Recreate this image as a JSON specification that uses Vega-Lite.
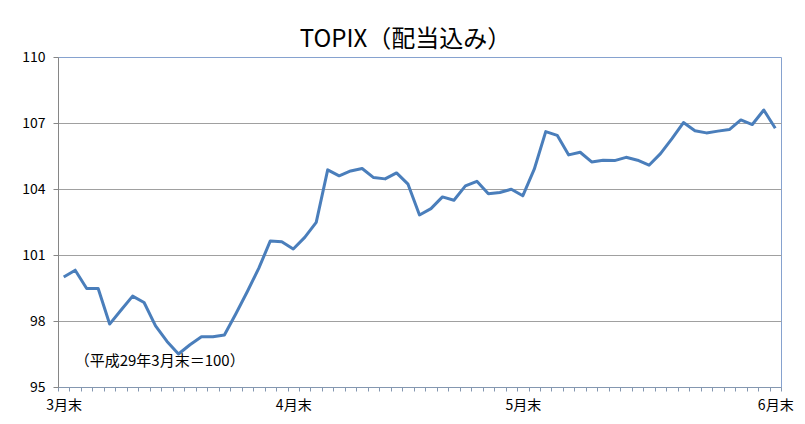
{
  "$schema": "https://vega.github.io/schema/vega-lite/v6.json",
  "autosize": "none",
  "width": 723,
  "height": 330,
  "padding": {"left": 58, "top": 57, "right": 24, "bottom": 37},
  "background": "white",
  "config": {
    "view": {"stroke": "#86A2CF", "strokeWidth": 1},
    "font": "Noto Sans CJK JP"
  },
  "title": {
    "text": "TOPIX（配当込み）",
    "font": "Noto Sans CJK JP",
    "fontSize": 24,
    "fontWeight": "normal",
    "color": "#000000",
    "anchor": "middle",
    "baseline": "alphabetic",
    "offset": 2,
    "dx": -14,
    "dy": 23
  },
  "datasets": {
    "topix": [
      {"d": "2017-03-31", "v": 100.00},
      {"d": "2017-04-03", "v": 100.31},
      {"d": "2017-04-04", "v": 99.48},
      {"d": "2017-04-05", "v": 99.48},
      {"d": "2017-04-06", "v": 97.86},
      {"d": "2017-04-07", "v": 98.50},
      {"d": "2017-04-10", "v": 99.13},
      {"d": "2017-04-11", "v": 98.84},
      {"d": "2017-04-12", "v": 97.78},
      {"d": "2017-04-13", "v": 97.07},
      {"d": "2017-04-14", "v": 96.50},
      {"d": "2017-04-17", "v": 96.92},
      {"d": "2017-04-18", "v": 97.28},
      {"d": "2017-04-19", "v": 97.28},
      {"d": "2017-04-20", "v": 97.36},
      {"d": "2017-04-21", "v": 98.33},
      {"d": "2017-04-24", "v": 99.34},
      {"d": "2017-04-25", "v": 100.40},
      {"d": "2017-04-26", "v": 101.64},
      {"d": "2017-04-27", "v": 101.60},
      {"d": "2017-04-28", "v": 101.27},
      {"d": "2017-05-01", "v": 101.80},
      {"d": "2017-05-02", "v": 102.48},
      {"d": "2017-05-08", "v": 104.87},
      {"d": "2017-05-09", "v": 104.60},
      {"d": "2017-05-10", "v": 104.82},
      {"d": "2017-05-11", "v": 104.93},
      {"d": "2017-05-12", "v": 104.52},
      {"d": "2017-05-15", "v": 104.46},
      {"d": "2017-05-16", "v": 104.73},
      {"d": "2017-05-17", "v": 104.22},
      {"d": "2017-05-18", "v": 102.82},
      {"d": "2017-05-19", "v": 103.11},
      {"d": "2017-05-22", "v": 103.64},
      {"d": "2017-05-23", "v": 103.49},
      {"d": "2017-05-24", "v": 104.14},
      {"d": "2017-05-25", "v": 104.35},
      {"d": "2017-05-26", "v": 103.78},
      {"d": "2017-05-29", "v": 103.84},
      {"d": "2017-05-30", "v": 103.99},
      {"d": "2017-05-31", "v": 103.69},
      {"d": "2017-06-01", "v": 104.90},
      {"d": "2017-06-02", "v": 106.61},
      {"d": "2017-06-05", "v": 106.44},
      {"d": "2017-06-06", "v": 105.55},
      {"d": "2017-06-07", "v": 105.67},
      {"d": "2017-06-08", "v": 105.23},
      {"d": "2017-06-09", "v": 105.31},
      {"d": "2017-06-12", "v": 105.29},
      {"d": "2017-06-13", "v": 105.44},
      {"d": "2017-06-14", "v": 105.31},
      {"d": "2017-06-15", "v": 105.08},
      {"d": "2017-06-16", "v": 105.61},
      {"d": "2017-06-19", "v": 106.29},
      {"d": "2017-06-20", "v": 107.02},
      {"d": "2017-06-21", "v": 106.65},
      {"d": "2017-06-22", "v": 106.55},
      {"d": "2017-06-23", "v": 106.63},
      {"d": "2017-06-26", "v": 106.70},
      {"d": "2017-06-27", "v": 107.14},
      {"d": "2017-06-28", "v": 106.93},
      {"d": "2017-06-29", "v": 107.59},
      {"d": "2017-06-30", "v": 106.76}
    ],
    "note": [
      {"d": "2017-04-04", "v": 96.2, "t": "（平成29年3月末＝100）"}
    ]
  },
  "layer": [
    {
      "data": {"name": "topix"},
      "mark": {"type": "line", "color": "#4A7EBB", "strokeWidth": 3, "strokeJoin": "round"},
      "encoding": {
        "x": {
          "field": "d",
          "type": "ordinal",
          "scale": {"type": "band", "paddingInner": 0, "paddingOuter": 0},
          "axis": {
            "title": null,
            "labelAngle": 0,
            "labelExpr": "datum.value=='2017-03-31'?'3月末':datum.value=='2017-04-28'?'4月末':datum.value=='2017-05-31'?'5月末':datum.value=='2017-06-30'?'6月末':''",
            "labelFont": "Noto Sans CJK JP",
            "labelFontSize": 14,
            "labelColor": "#000000",
            "labelPadding": 7,
            "tickBand": "extent",
            "tickSize": 4,
            "tickColor": "#8497B0",
            "domainColor": "#8497B0",
            "grid": false,
            "labelOverlap": false
          }
        },
        "y": {
          "field": "v",
          "type": "quantitative",
          "scale": {"domain": [95, 110], "nice": false, "zero": false},
          "axis": {
            "title": null,
            "values": [95, 98, 101, 104, 107, 110],
            "labelFont": "Noto Sans CJK JP",
            "labelFontSize": 14,
            "labelColor": "#000000",
            "labelPadding": 8,
            "tickSize": 5,
            "tickColor": "#868686",
            "domainColor": "#868686",
            "grid": true,
            "gridColor": {"condition": {"test": "datum.value == 110 || datum.value == 95", "value": "transparent"}, "value": "#A0A0A0"},
            "gridWidth": 1.2
          }
        }
      }
    },
    {
      "data": {"name": "note"},
      "mark": {"type": "text", "align": "left", "baseline": "middle", "fontSize": 15, "font": "Noto Sans CJK JP", "color": "#000000", "dx": -12},
      "encoding": {
        "x": {"field": "d", "type": "ordinal"},
        "y": {"field": "v", "type": "quantitative"},
        "text": {"field": "t"}
      }
    }
  ]
}
